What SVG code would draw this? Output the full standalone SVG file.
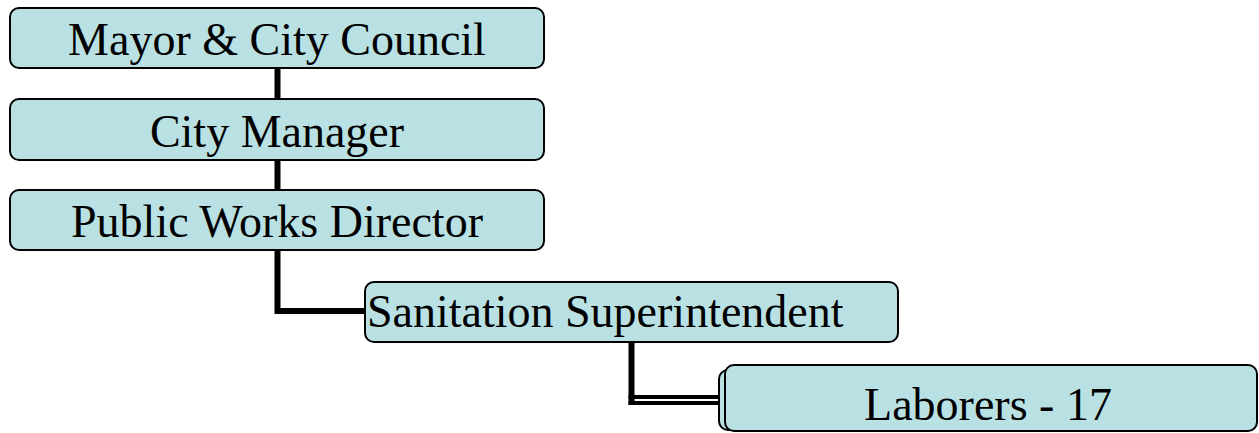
<svg xmlns="http://www.w3.org/2000/svg" width="1259" height="433" viewBox="0 0 1259 433">
<style>
.box{fill:#b9e0e3;stroke:#000;stroke-width:2}
.t{font-family:"Liberation Serif","Times New Roman",serif;font-size:46px;fill:#000}
.c{fill:none;stroke:#000;stroke-width:6}
</style>
<rect width="1259" height="433" fill="#fff"/>
<g id="connectors">
<line class="c" x1="277.5" y1="68" x2="277.5" y2="100"/>
<line class="c" x1="277.5" y1="160" x2="277.5" y2="191"/>
<polyline class="c" points="277.5,250 277.5,311 366,311"/>
<line class="c" x1="631.5" y1="342" x2="631.5" y2="405"/>
<line x1="628.5" y1="397" x2="720" y2="397" stroke="#000" stroke-width="4"/>
<line x1="628.5" y1="403" x2="720" y2="403" stroke="#000" stroke-width="4"/>
</g>
<g id="mayor">
<rect class="box" x="10" y="8" width="534" height="60" rx="9"/>
<text class="t" x="277" y="55" text-anchor="middle">Mayor &amp; City Council</text>
</g>
<g id="manager">
<rect class="box" x="10" y="99" width="534" height="61" rx="9"/>
<text class="t" x="277" y="147" text-anchor="middle">City Manager</text>
</g>
<g id="director">
<rect class="box" x="10" y="190" width="534" height="60" rx="9"/>
<text class="t" x="277" y="237" text-anchor="middle">Public Works Director</text>
</g>
<g id="superintendent">
<rect class="box" x="365" y="282" width="533" height="60" rx="9"/>
<text class="t" x="367" y="327">Sanitation Superintendent</text>
</g>
<g id="laborers">
<rect class="box" x="719" y="370" width="533" height="60" rx="9"/>
<rect class="box" x="725" y="365" width="532" height="66" rx="9"/>
<text class="t" x="988" y="420" text-anchor="middle">Laborers - 17</text>
</g>
</svg>
